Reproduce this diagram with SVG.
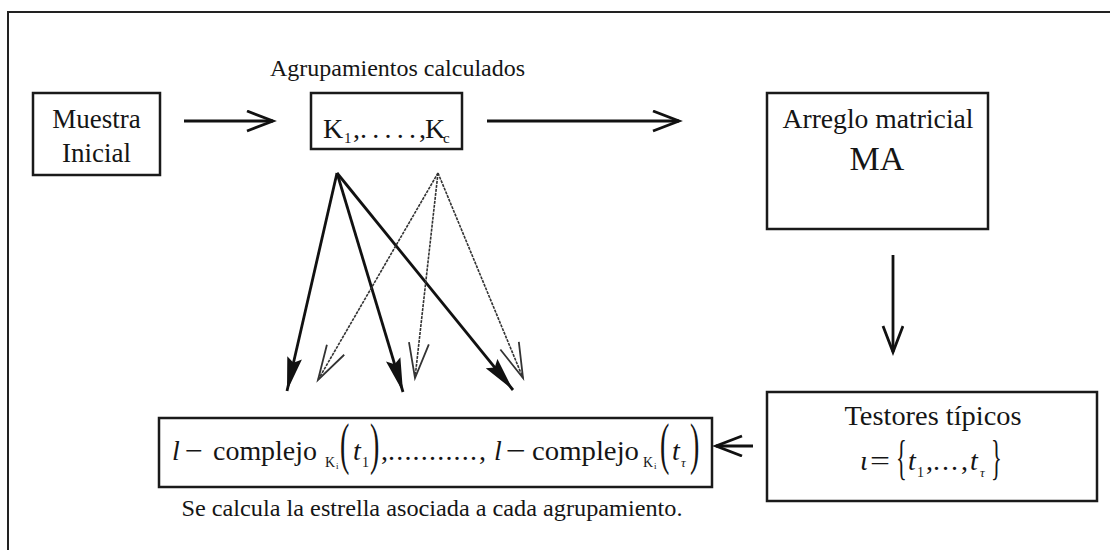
<svg xmlns="http://www.w3.org/2000/svg" width="1110" height="550" viewBox="0 0 1110 550">
<style>
.box{fill:none;stroke:#1a1a1a;stroke-width:2.5}
.t{font-family:'Liberation Serif','DejaVu Serif',serif;fill:#151515}
.it{font-style:italic}
.bold{stroke:#111;stroke-width:2.8;fill:none}
.thin{stroke:#333;stroke-width:1.6;fill:none;stroke-dasharray:3 1}
</style>
<defs>
<marker id="open" markerUnits="userSpaceOnUse" markerWidth="40" markerHeight="26" refX="27" refY="11" orient="auto">
<path d="M1,1 L27,11 L1,21" fill="none" stroke="#111" stroke-width="2.8"/>
</marker>
<marker id="fill" markerUnits="userSpaceOnUse" markerWidth="40" markerHeight="20" refX="34" refY="8" orient="auto">
<path d="M0,0.5 L34,8 L0,15.5 L5,8 z" fill="#111"/>
</marker>
<marker id="openthin" markerUnits="userSpaceOnUse" markerWidth="42" markerHeight="24" refX="36" refY="11" orient="auto">
<path d="M1,1 L36,11 L1,21" fill="none" stroke="#333" stroke-width="1.8"/>
</marker>
</defs>
<rect x="8" y="12" width="1130" height="560" fill="none" stroke="#222" stroke-width="2"/>

<g font-family="Liberation Serif, DejaVu Serif, serif">
<g id="muestra">
<rect class="box" x="33" y="93" width="127" height="82"/>
<text class="t" x="96.5" y="128" font-size="27" text-anchor="middle">Muestra</text>
<text class="t" x="96.5" y="162" font-size="27" text-anchor="middle">Inicial</text>
</g>

<g id="agrupamientos">
<text class="t" x="397.5" y="76" font-size="24" text-anchor="middle" textLength="255" lengthAdjust="spacingAndGlyphs">Agrupamientos calculados</text>
<rect class="box" x="311" y="93" width="151" height="56"/>
<text class="t" x="323" y="138" font-size="28">K</text>
<text class="t" x="344" y="143" font-size="15">1</text>
<text class="t" x="353" y="138" font-size="28">,</text>
<text class="t" x="360" y="138" font-size="28" textLength="56" lengthAdjust="spacing">.....</text>
<text class="t" x="419" y="138" font-size="28">,</text>
<text class="t" x="425" y="138" font-size="28">K</text>
<text class="t" x="443" y="143" font-size="15">c</text>
</g>

<g id="arreglo">
<rect class="box" x="767" y="93" width="221" height="136"/>
<text class="t" x="878" y="128" font-size="27" text-anchor="middle" textLength="191" lengthAdjust="spacingAndGlyphs">Arreglo matricial</text>
<text class="t" x="877" y="170" font-size="34" text-anchor="middle">MA</text>
</g>

<g id="testores">
<rect class="box" x="767" y="392" width="330" height="109"/>
<text class="t" x="933" y="425" font-size="27" text-anchor="middle" textLength="177" lengthAdjust="spacingAndGlyphs">Testores típicos</text>
<text class="t it" x="860" y="470" font-size="28">ι</text>
<text class="t" x="870" y="470" font-size="28" textLength="20" lengthAdjust="spacingAndGlyphs">=</text>
<text class="t" font-size="28" transform="translate(896,474) scale(0.8,1.7)">{</text>
<text class="t it" x="908" y="470" font-size="28">t</text>
<text class="t" x="917" y="477" font-size="14">1</text>
<text class="t" x="926" y="470" font-size="28">,</text>
<text class="t" x="933" y="470" font-size="28" textLength="25" lengthAdjust="spacing">...</text>
<text class="t" x="961" y="470" font-size="28">,</text>
<text class="t it" x="970" y="470" font-size="28">t</text>
<text class="t it" x="980" y="477" font-size="13">τ</text>
<text class="t" font-size="28" transform="translate(991,474) scale(0.8,1.7)">}</text>
</g>

<g id="complejos">
<rect class="box" x="159" y="418" width="553" height="69"/>
<text class="t it" x="172" y="460" font-size="28">l</text>
<text class="t" x="185" y="460" font-size="28" textLength="18" lengthAdjust="spacingAndGlyphs">−</text>
<text class="t" x="213" y="460" font-size="28" textLength="104" lengthAdjust="spacingAndGlyphs">complejo</text>
<text class="t" x="325" y="467" font-size="14">K</text>
<text class="t" x="336" y="469" font-size="9">i</text>
<text class="t" font-size="28" transform="translate(340,463) scale(1,2)">(</text>
<text class="t it" x="353" y="460" font-size="28">t</text>
<text class="t" x="362" y="467" font-size="14">1</text>
<text class="t" font-size="28" transform="translate(370,463) scale(1,2)">)</text>
<text class="t" x="381" y="460" font-size="28">,</text>
<text class="t" x="388" y="460" font-size="28" textLength="89" lengthAdjust="spacing">...........</text>
<text class="t" x="479" y="460" font-size="28">,</text>
<text class="t it" x="494" y="460" font-size="28">l</text>
<text class="t" x="506" y="460" font-size="28" textLength="20" lengthAdjust="spacingAndGlyphs">−</text>
<text class="t" x="532" y="460" font-size="28" textLength="107" lengthAdjust="spacingAndGlyphs">complejo</text>
<text class="t" x="643" y="467" font-size="14">K</text>
<text class="t" x="654" y="469" font-size="9">i</text>
<text class="t" font-size="28" transform="translate(660,463) scale(1,2)">(</text>
<text class="t it" x="672" y="460" font-size="28">t</text>
<text class="t it" x="681" y="467" font-size="13">τ</text>
<text class="t" font-size="28" transform="translate(690,463) scale(1,2)">)</text>
<text class="t" x="432" y="516" font-size="24" text-anchor="middle" textLength="501" lengthAdjust="spacingAndGlyphs">Se calcula la estrella asociada a cada agrupamiento.</text>
</g>
</g>

<g id="connectors">
<line class="bold" x1="184" y1="121" x2="273" y2="121" marker-end="url(#open)"/>
<line class="bold" x1="487" y1="121" x2="679" y2="121" marker-end="url(#open)"/>
<line class="bold" x1="893" y1="255" x2="893" y2="352" marker-end="url(#open)"/>
<line class="bold" x1="753" y1="446" x2="716" y2="446" marker-end="url(#open)"/>
<line class="bold" x1="337" y1="173" x2="287" y2="391" marker-end="url(#fill)"/>
<line class="bold" x1="337" y1="173" x2="403" y2="392" marker-end="url(#fill)"/>
<line class="bold" x1="337" y1="173" x2="513" y2="390" marker-end="url(#fill)"/>
<line class="thin" x1="438" y1="173" x2="318" y2="380" marker-end="url(#openthin)"/>
<line class="thin" x1="438" y1="173" x2="415" y2="378" marker-end="url(#openthin)"/>
<line class="thin" x1="438" y1="173" x2="523" y2="378" marker-end="url(#openthin)"/>
</g>
</svg>
